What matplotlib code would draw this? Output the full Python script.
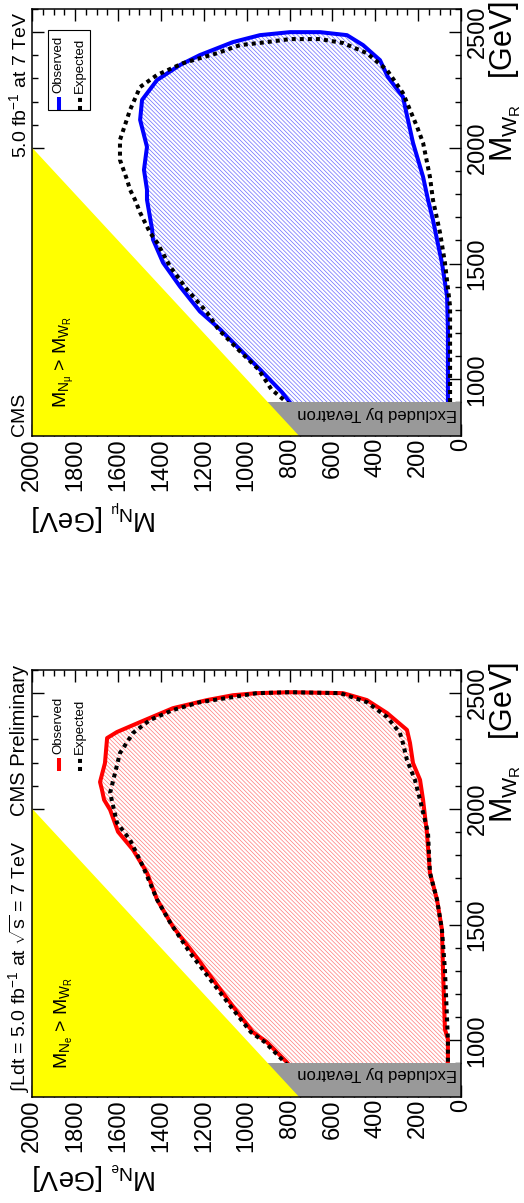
import matplotlib
matplotlib.use("Agg")
import matplotlib.pyplot as plt
from matplotlib.patches import Rectangle

plt.rcParams['font.family'] = ['Liberation Sans', 'DejaVu Sans']
plt.rcParams['mathtext.fontset'] = 'custom'
plt.rcParams['mathtext.rm'] = 'Liberation Sans'
plt.rcParams['mathtext.it'] = 'Liberation Sans'
plt.rcParams['mathtext.sf'] = 'Liberation Sans'
plt.rcParams['hatch.linewidth'] = 0.5

# axis ranges / ticks
MN_TICKS = [0, 200, 400, 600, 800, 1000, 1200, 1400, 1600, 1800, 2000]
MWR_TICKS = [1000, 1500, 2000, 2500]
MN_RANGE = (2000, 0)
MWR_RANGE = (755, 2600)
TEVATRON_MWR = 900

# muon channel (top panel): M_WR, M_N in GeV
mu_obs_mwr = [890, 944, 1043, 1129, 1216, 1293, 1401, 1504, 1604, 1647, 1776, 1819, 1905,
              2004, 2121, 2207, 2293, 2358, 2401, 2457, 2487, 2500, 2500, 2487, 2444, 2379,
              2306, 2220, 2022, 1875, 1776, 1690, 1604, 1504, 1358, 1216, 957, 890]
mu_obs_mn = [790, 835, 938, 1031, 1124, 1218, 1311, 1390, 1437, 1441, 1465, 1465, 1479,
             1465, 1497, 1488, 1418, 1311, 1218, 1064, 938, 798, 658, 532, 457, 378,
             341, 271, 224, 177, 154, 131, 112, 89, 65, 61, 61, 61]
mu_exp_mwr = [890, 957, 1043, 1129, 1216, 1289, 1388, 1487, 1591, 1634, 1720, 1776, 1819,
              1862, 1948, 2034, 2164, 2263, 2315, 2366, 2409, 2444, 2457, 2470, 2470, 2453,
              2409, 2336, 2237, 2091, 2022, 1875, 1776, 1733, 1634, 1504, 1315, 957, 890]
mu_exp_mn = [800, 885, 945, 1040, 1132, 1185, 1278, 1357, 1418, 1451, 1497, 1521, 1544,
             1558, 1591, 1591, 1544, 1497, 1418, 1297, 1138, 1031, 905, 798, 658, 550,
             439, 345, 271, 205, 177, 145, 131, 121, 98, 75, 51, 51, 51]

# electron channel (bottom panel)
e_obs_mwr = [890, 905, 992, 1035, 1147, 1263, 1379, 1491, 1608, 1724, 1823, 1901, 1996,
             2039, 2082, 2116, 2198, 2306, 2332, 2375, 2435, 2470, 2491, 2500, 2504, 2500,
             2470, 2414, 2341, 2285, 2198, 2125, 2039, 1897, 1724, 1608, 1479, 1306, 1048,
             1004, 905, 890]
e_obs_mn = [800, 812, 905, 970, 1064, 1157, 1250, 1344, 1418, 1465, 1530, 1600, 1637,
            1665, 1675, 1684, 1661, 1651, 1605, 1497, 1344, 1185, 1064, 952, 798, 550,
            439, 345, 252, 238, 224, 191, 177, 159, 145, 112, 89, 84, 75,
            61, 61, 61]
e_exp_mwr = [890, 905, 992, 1035, 1147, 1263, 1379, 1509, 1608, 1750, 1866, 1940, 2069,
             2241, 2328, 2384, 2427, 2461, 2483, 2500, 2504, 2500, 2461, 2397, 2328, 2285,
             2211, 2125, 2039, 1897, 1724, 1608, 1479, 1306, 1004, 890]
e_exp_mn = [808, 822, 915, 980, 1075, 1170, 1265, 1357, 1418, 1483, 1544, 1605, 1637,
            1591, 1530, 1451, 1344, 1218, 1064, 952, 798, 564, 439, 345, 285, 271,
            252, 215, 191, 154, 145, 112, 89, 75, 61, 61]

W, H = 524, 1203


def fx(x):
    return x / W


def fy(y):
    return 1 - y / H


def panel(fig, top, obs_mn, obs_mwr, exp_mn, exp_mwr, color, hatch_color,
          lepton, left_top, left_bottom, legend_box):
    ax = fig.add_axes([fx(32.3), fy(top + 427), 428.7 / W, 427 / H])
    ax.set_xlim(*MN_RANGE)
    ax.set_ylim(*MWR_RANGE)

    ax.fill(obs_mn, obs_mwr, facecolor='none', edgecolor=hatch_color,
            hatch='\\' * 8, lw=0, zorder=1)
    ax.plot(obs_mn, obs_mwr, color=color, lw=2.9, zorder=3, solid_joinstyle='round')
    ax.plot(exp_mn, exp_mwr, color='black', lw=2.9, ls=(0, (1, 1)),
            dash_capstyle='butt', zorder=4)
    ax.axhspan(0, TEVATRON_MWR, color='#999999', lw=0, zorder=5)
    # kinematically forbidden: M_N > M_WR
    ax.fill([0, 2600, 2600], [0, 2600, 0], color='#ffff00', lw=0, zorder=6)

    ax.set_xticks(MN_TICKS, [str(v) for v in MN_TICKS], rotation=90)
    ax.set_xticks(range(0, 2001, 50), minor=True)
    ax.set_yticks(MWR_TICKS, [str(v) for v in MWR_TICKS], rotation=90, va='center')
    ax.set_yticks(range(800, 2601, 100), minor=True)
    ax.tick_params(which='both', direction='in', top=True, bottom=True, left=True,
                   right=True, labelleft=False, labelright=True, labelsize=17, width=1)
    ax.tick_params(which='major', length=8.5)
    ax.tick_params(which='minor', length=4.3)
    ax.tick_params(axis='x', pad=1.5)
    ax.tick_params(axis='y', pad=4)
    for s in ax.spines.values():
        s.set_linewidth(1.1)
        s.set_zorder(10)

    fig.text(fx(457), fy(top + 404), 'Excluded by Tevatron', rotation=180,
             ha='right', va='center', fontsize=12, zorder=11)
    fig.text(fx(64), fy(top + 399), r'$M_{N_{%s}}$ > $M_{W_R}$' % lepton, rotation=90,
             ha='center', va='bottom', fontsize=14, zorder=11)
    fig.text(fx(32), fy(top + 506), r'$M_{N_{%s}}$ [GeV]' % lepton, rotation=180,
             ha='left', va='center', fontsize=20)
    fig.text(fx(505), fy(top - 8), r'$M_{W_R}$   [GeV]', rotation=90,
             ha='center', va='top', fontsize=22)

    txt, ytop, size = left_top
    fig.text(fx(19.5), fy(top + ytop), txt, rotation=90, ha='center', va='top', fontsize=size)
    txt, ybot, size = left_bottom
    fig.text(fx(19.5), fy(top + ybot), txt, rotation=90, ha='center', va='bottom', fontsize=size)

    # legend, drawn by hand because the whole figure is turned on its side
    if legend_box:
        fig.add_artist(Rectangle((fx(48), fy(top + 101)), 42 / W, 80 / H,
                                 transform=fig.transFigure, fill=False, lw=0.8,
                                 edgecolor='black'))
    for xc, name, ls in [(58.5, 'Observed', '-'), (79.5, 'Expected', (0, (1, 1)))]:
        lc = color if name == 'Observed' else 'black'
        ax.plot([fx(xc), fx(xc)], [fy(top + 101), fy(top + 88)], color=lc, lw=2.9,
                ls=ls, dash_capstyle='butt', solid_capstyle='butt',
                transform=fig.transFigure, clip_on=False, zorder=12)
        fig.text(fx(xc), fy(top + 84), name, rotation=90, ha='center', va='bottom',
                 fontsize=9.5)
    return ax


fig = plt.figure(figsize=(W / 100, H / 100), dpi=100)

panel(fig, 9, mu_obs_mn, mu_obs_mwr, mu_exp_mn, mu_exp_mwr, '#0000ff', '#6a6aff',
      r'\mu', (r'5.0 fb$^{-1}$ at 7 TeV', 3, 14), ('CMS', 427, 14), True)
panel(fig, 670, e_obs_mn, e_obs_mwr, e_exp_mn, e_exp_mwr, '#ff0000', '#ff7a7a',
      'e', ('CMS Preliminary', -5, 14.5),
      (r'∫Ldt = 5.0 fb$^{-1}$ at $\sqrt{s}$ = 7 TeV', 422, 14), False)

fig.savefig('out.png', dpi=100)
